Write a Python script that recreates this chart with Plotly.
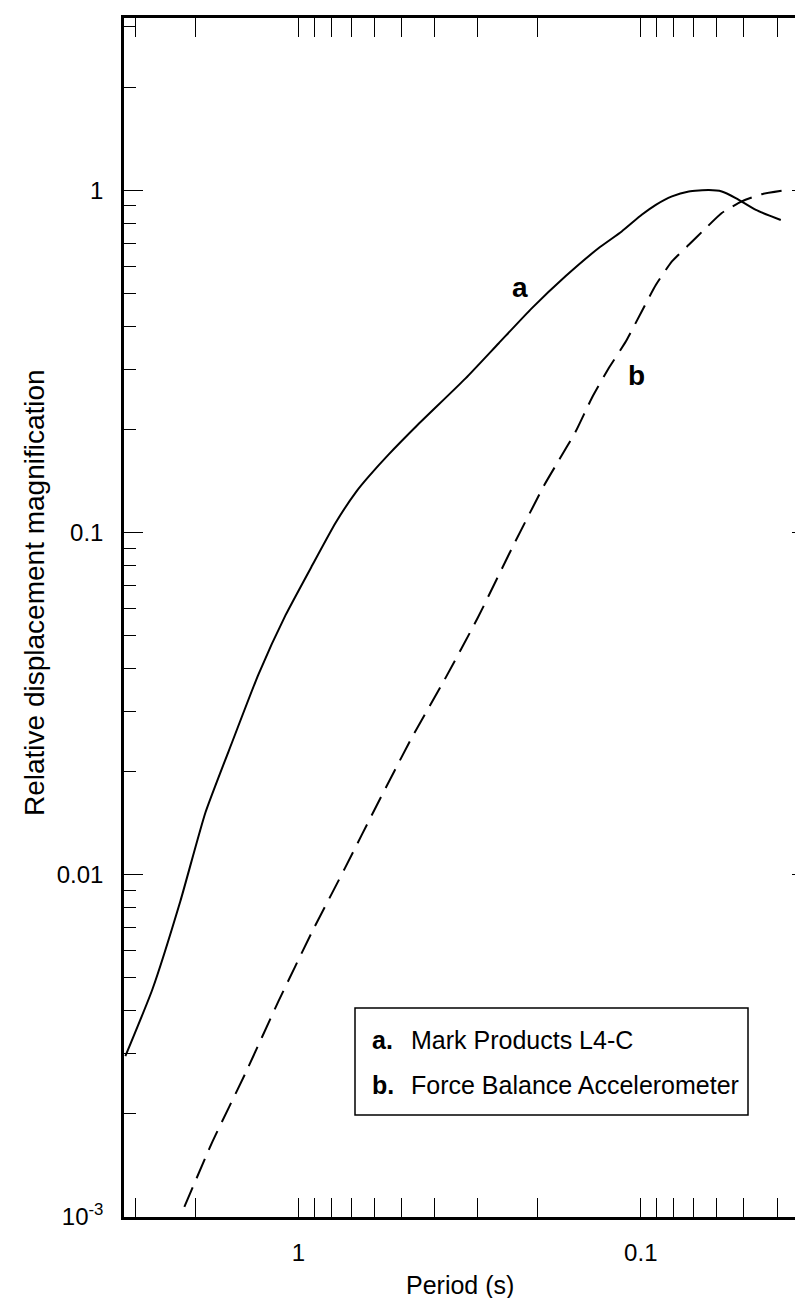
import plotly.graph_objects as go

# Curve a: Mark Products L4-C (solid)
period_a = [3.205, 2.673, 2.213, 1.871, 1.56, 1.309, 1.091, 0.910, 0.779, 0.677, 0.624,
            0.545, 0.452, 0.325, 0.260, 0.208, 0.166, 0.133, 0.1137, 0.0994, 0.0904,
            0.0811, 0.0724, 0.0633, 0.0580, 0.0528, 0.0461, 0.0390]
mag_a = [0.00295, 0.00462, 0.00838, 0.01517, 0.0245, 0.0385, 0.0573, 0.0804, 0.1067,
         0.1318, 0.1455, 0.169, 0.2046, 0.2818, 0.357, 0.452, 0.560, 0.676, 0.757,
         0.847, 0.906, 0.959, 0.991, 1.0, 0.991, 0.948, 0.875, 0.818]

# Curve b: Force Balance Accelerometer (dashed)
period_b = [2.155, 1.784, 1.429, 1.144, 0.916, 0.731, 0.583, 0.467, 0.374, 0.2997, 0.239,
            0.191, 0.1738, 0.155, 0.139, 0.124, 0.1106, 0.0994, 0.0904, 0.0811, 0.0724,
            0.0646, 0.058, 0.0507, 0.0443, 0.0377]
mag_b = [0.00107, 0.00166, 0.00263, 0.00427, 0.00676, 0.01047, 0.01637, 0.0251, 0.0372,
         0.0562, 0.0891, 0.138, 0.162, 0.197, 0.247, 0.302, 0.361, 0.442, 0.528, 0.619,
         0.692, 0.774, 0.857, 0.927, 0.973, 1.0]

y_tickvals = [0.001, 0.01, 0.1, 1]
y_ticktext = ["10<sup>-3</sup>", "0.01", "0.1", "1"]
x_tickvals = [1, 0.1]
x_ticktext = ["1", "0.1"]

legend_keys = ["a.", "b."]
legend_names = ["Mark Products L4-C", "Force Balance Accelerometer"]
curve_labels = ["a", "b"]
x_title = "Period (s)"
y_title = "Relative displacement magnification"

minor_vals = [m * 10.0 ** e for e in range(-4, 2) for m in range(2, 10)]

FONT = "Liberation Sans, Arial, Helvetica, sans-serif"

W, H = 803, 1298
L, R, T, B = 116, 0, 10, 89
pw, ph = W - L - R, H - T - B
DEC = 342.3          # pixels per decade
X_ONE = 290.5        # pixel column of period = 1
x_range = [(X_ONE - L) / DEC, -(W - R - X_ONE) / DEC]
y_range = [-3, -3 + ph / DEC]


def px(x):
    return (x - L) / pw


def py(y):
    return (H - B - y) / ph


fig = go.Figure()
fig.add_trace(go.Scatter(x=period_a, y=mag_a, mode="lines",
                         line=dict(color="black", width=2, shape="spline", smoothing=0.5),
                         showlegend=False, hoverinfo="skip"))
fig.add_trace(go.Scatter(x=period_b, y=mag_b, mode="lines",
                         line=dict(color="black", width=2, dash="21px,10px",
                                   shape="spline", smoothing=0.5),
                         showlegend=False, hoverinfo="skip"))
# invisible trace carrying the right-hand tick axis
fig.add_trace(go.Scatter(x=period_a[:1], y=mag_a[:1], yaxis="y2", mode="markers",
                         marker=dict(opacity=0), showlegend=False, hoverinfo="skip"))

tickfont = dict(family=FONT, size=24, color="black")
minor = dict(ticks="inside", ticklen=12, tickwidth=1, tickcolor="black",
             tickmode="array", tickvals=minor_vals, showgrid=False)

fig.update_layout(
    xaxis=dict(type="log", range=x_range, tickmode="array", tickvals=x_tickvals,
               ticktext=x_ticktext, showline=True, linecolor="black", linewidth=2.5,
               mirror="allticks", ticks="inside", ticklen=19, tickwidth=1,
               tickcolor="black", showgrid=False, zeroline=False, tickfont=tickfont,
               ticklabelstandoff=12, minor=minor, automargin=False),
    yaxis=dict(type="log", range=y_range, tickmode="array", tickvals=y_tickvals,
               ticktext=y_ticktext, showline=True, linecolor="black", linewidth=2.5,
               mirror=False, ticks="inside", ticklen=19, tickwidth=1,
               tickcolor="black", showgrid=False, zeroline=False, tickfont=tickfont,
               ticklabelstandoff=13, minor=minor, automargin=False),
    yaxis2=dict(type="log", range=y_range, overlaying="y", side="right",
                tickmode="array", tickvals=y_tickvals, showticklabels=False,
                showline=False, ticks="inside", ticklen=19, tickwidth=1,
                tickcolor="black", showgrid=False, zeroline=False, minor=minor,
                automargin=False),
)

# axis titles
fig.add_annotation(xref="paper", yref="paper", x=px(452), y=py(1277), text=x_title,
                   showarrow=False, xanchor="center", yanchor="middle",
                   font=dict(family=FONT, size=25, color="black"))
fig.add_annotation(xref="paper", yref="paper", x=px(27), y=py(585), text=y_title,
                   showarrow=False, xanchor="center", yanchor="middle", textangle=-90,
                   font=dict(family=FONT, size=28, color="black"))

# legend box
fig.add_shape(type="rect", xref="paper", yref="paper",
              x0=px(347), x1=px(740), y0=py(1107), y1=py(1000),
              line=dict(color="black", width=1.5), fillcolor="white", layer="above")
for i, yy in enumerate([1032, 1077]):
    fig.add_annotation(xref="paper", yref="paper", x=px(362), y=py(yy),
                       text="<b>" + legend_keys[i] + "</b>", showarrow=False,
                       xanchor="left", yanchor="middle",
                       font=dict(family=FONT, size=25, color="black"))
    fig.add_annotation(xref="paper", yref="paper", x=px(401), y=py(yy),
                       text=legend_names[i], showarrow=False,
                       xanchor="left", yanchor="middle",
                       font=dict(family=FONT, size=25, color="black"))

# curve labels
for lab, (xx, yy) in zip(curve_labels, [(512, 280), (628, 367)]):
    fig.add_annotation(xref="paper", yref="paper", x=px(xx), y=py(yy),
                       text="<b>" + lab + "</b>", showarrow=False,
                       xanchor="center", yanchor="middle",
                       font=dict(family=FONT, size=28, color="black"))

fig.update_layout(width=W, height=H, margin=dict(l=L, r=R, t=T, b=B),
                  paper_bgcolor="white", plot_bgcolor="white")

fig.write_html("out.html")
